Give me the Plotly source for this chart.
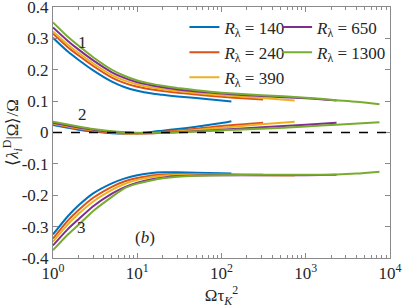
import plotly.graph_objects as go

# ---------------- data ----------------
labels = ["140", "240", "390", "650", "1300"]
colors = ["#0072BD", "#D95319", "#EDB120", "#7E2F8E", "#77AC30"]

# curve family 1
x1_140 = [1, 1.5, 2, 3, 5, 7, 10, 15, 20, 30, 50, 100, 131]
y1_140 = [0.302, 0.258, 0.232, 0.198, 0.162, 0.145, 0.133, 0.124, 0.120, 0.115, 0.110, 0.102, 0.099]
x1_240 = [1, 1.5, 2, 3, 5, 7, 10, 15, 20, 30, 50, 100, 200, 312]
y1_240 = [0.315, 0.272, 0.246, 0.212, 0.175, 0.158, 0.146, 0.137, 0.132, 0.127, 0.121, 0.114, 0.108, 0.105]
x1_390 = [1, 1.5, 2, 3, 5, 7, 10, 15, 20, 30, 50, 100, 300, 740]
y1_390 = [0.322, 0.280, 0.254, 0.220, 0.183, 0.166, 0.153, 0.143, 0.138, 0.132, 0.126, 0.119, 0.110, 0.102]
x1_650 = [1, 1.5, 2, 3, 5, 7, 10, 15, 20, 30, 50, 100, 300, 1000, 2320]
y1_650 = [0.335, 0.292, 0.265, 0.230, 0.192, 0.174, 0.160, 0.150, 0.144, 0.137, 0.131, 0.124, 0.116, 0.109, 0.102]
x1_1300 = [1, 1.5, 2, 3, 5, 7, 10, 15, 20, 30, 50, 100, 300, 1000, 2300, 4000, 7500]
y1_1300 = [0.351, 0.305, 0.277, 0.240, 0.200, 0.181, 0.166, 0.155, 0.149, 0.142, 0.135, 0.127, 0.119, 0.111, 0.103, 0.098, 0.090]

# curve family 2
x2_140 = [1, 1.5, 2, 3, 5, 7, 10, 15, 20, 30, 50, 100, 131]
y2_140 = [0.024, 0.015, 0.009, 0.003, -0.002, -0.003, -0.002, 0.002, 0.006, 0.011, 0.018, 0.030, 0.036]
x2_240 = [1, 1.5, 2, 3, 5, 7, 10, 15, 20, 30, 50, 100, 200, 312]
y2_240 = [0.027, 0.018, 0.012, 0.005, -0.001, -0.003, -0.003, -0.001, 0.002, 0.006, 0.012, 0.021, 0.027, 0.031]
x2_390 = [1, 2, 3, 5, 7, 10, 15, 20, 30, 50, 100, 300, 740]
y2_390 = [0.029, 0.014, 0.007, 0.001, -0.002, -0.003, -0.002, 0.000, 0.003, 0.008, 0.015, 0.026, 0.034]
x2_650 = [1, 2, 3, 5, 10, 15, 20, 30, 50, 100, 300, 1000, 2320]
y2_650 = [0.031, 0.016, 0.009, 0.002, -0.002, -0.002, -0.001, 0.001, 0.004, 0.009, 0.017, 0.025, 0.031]
x2_1300 = [1, 2, 3, 5, 10, 20, 30, 50, 100, 300, 1000, 2300, 7500]
y2_1300 = [0.034, 0.019, 0.011, 0.004, -0.001, -0.001, 0.001, 0.003, 0.007, 0.012, 0.019, 0.025, 0.033]

# curve family 3
x3_140 = [1, 1.5, 2, 3, 5, 7, 10, 15, 20, 30, 50, 100, 131]
y3_140 = [-0.325, -0.267, -0.233, -0.194, -0.162, -0.147, -0.136, -0.129, -0.127, -0.127, -0.128, -0.130, -0.131]
x3_240 = [1, 1.5, 2, 3, 5, 7, 10, 15, 20, 30, 50, 100, 312]
y3_240 = [-0.338, -0.281, -0.248, -0.208, -0.173, -0.156, -0.145, -0.137, -0.134, -0.132, -0.132, -0.133, -0.135]
x3_390 = [1, 1.5, 2, 3, 5, 7, 10, 15, 20, 30, 50, 100, 300, 740]
y3_390 = [-0.348, -0.293, -0.260, -0.220, -0.183, -0.164, -0.151, -0.142, -0.138, -0.135, -0.134, -0.135, -0.136, -0.137]
x3_650 = [1, 1.5, 2, 3, 5, 7, 10, 15, 20, 30, 50, 100, 300, 1000, 2320]
y3_650 = [-0.360, -0.308, -0.277, -0.235, -0.195, -0.175, -0.160, -0.149, -0.144, -0.139, -0.137, -0.136, -0.136, -0.136, -0.135]
x3_1300 = [1, 1.5, 2, 3, 5, 7, 10, 15, 20, 30, 50, 100, 300, 1000, 2300, 4000, 7500]
y3_1300 = [-0.375, -0.325, -0.295, -0.250, -0.205, -0.178, -0.163, -0.152, -0.146, -0.141, -0.138, -0.136, -0.135, -0.135, -0.134, -0.131, -0.125]

family1 = [(x1_140, y1_140), (x1_240, y1_240), (x1_390, y1_390), (x1_650, y1_650), (x1_1300, y1_1300)]
family2 = [(x2_140, y2_140), (x2_240, y2_240), (x2_390, y2_390), (x2_650, y2_650), (x2_1300, y2_1300)]
family3 = [(x3_140, y3_140), (x3_240, y3_240), (x3_390, y3_390), (x3_650, y3_650), (x3_1300, y3_1300)]

y_ticks = [0.4, 0.3, 0.2, 0.1, 0, -0.1, -0.2, -0.3, -0.4]
y_ticktext = ["0.4", "0.3", "0.2", "0.1", "0", "-0.1", "-0.2", "-0.3", "-0.4"]
x_ticks = [1, 10, 100, 1000, 10000]
x_ticktext = ["10<sup>0</sup>", "10<sup>1</sup>", "10<sup>2</sup>", "10<sup>3</sup>", "10<sup>4</sup>"]

FONT = "Liberation Serif"
TXT = "#262626"

fig = go.Figure()
for i, (lab, col) in enumerate(zip(labels, colors)):
    leg = "legend" if i < 3 else "legend2"
    for k, fam in enumerate((family1, family2, family3)):
        xs, ys = fam[i]
        fig.add_trace(go.Scatter(
            x=xs, y=ys, mode="lines",
            line=dict(color=col, width=2, shape="spline", smoothing=0.6),
            name=f"<i>R</i><sub>λ</sub> = {lab}",
            showlegend=(k == 0), legend=leg, legendgroup=lab,
        ))

# dashed zero line
fig.add_shape(type="line", xref="paper", x0=0, x1=1, yref="y", y0=0, y1=0,
              line=dict(color="black", width=1.5, dash="dash"))

ann_font = dict(family=FONT, size=17, color=TXT)
fig.add_annotation(x=0.356, y=0.287, text="1", showarrow=False, font=ann_font)
fig.add_annotation(x=0.345, y=0.057, text="2", showarrow=False, font=ann_font)
fig.add_annotation(x=0.335, y=-0.302, text="3", showarrow=False, font=ann_font)
fig.add_annotation(x=1.09, y=-0.334, text="(<i>b</i>)", showarrow=False, font=ann_font)

axis_common = dict(
    showline=True, linecolor="#8a8a8a", linewidth=1, mirror="ticks",
    ticks="inside", ticklen=5, tickcolor="#8a8a8a", showgrid=False, zeroline=False,
    tickfont=dict(family=FONT, size=17, color=TXT), automargin=False,
    ticklabeloverflow="allow",
)

fig.update_xaxes(type="log", range=[0, 4], tickvals=x_ticks, ticktext=x_ticktext,
                 minor=dict(ticks="inside", ticklen=3, tickcolor="#8a8a8a", dtick="D1", showgrid=False),
                 title=dict(text="Ωτ<sub><i>K</i></sub><sup>2</sup>", font=dict(family=FONT, size=17, color=TXT), standoff=0),
                 **axis_common)
fig.update_yaxes(range=[-0.4, 0.4], tickvals=y_ticks, ticktext=y_ticktext,
                 title=dict(text="⟨<i>λ</i><sub><i>i</i></sub><sup>D</sup>|Ω⟩/Ω", font=dict(family=FONT, size=17, color=TXT), standoff=6),
                 **axis_common)

legend_common = dict(bgcolor="rgba(0,0,0,0)", borderwidth=0, font=dict(family=FONT, size=17, color=TXT),
                     yanchor="top", xanchor="left", tracegroupgap=0, itemwidth=30)
fig.update_layout(
    width=403, height=308,
    margin=dict(l=53, r=13, t=7, b=50, autoexpand=False),
    paper_bgcolor="white", plot_bgcolor="white",
    legend=dict(x=0.39, y=0.99, **legend_common),
    legend2=dict(x=0.665, y=0.99, **legend_common),
)

fig.write_html("out.html", post_script="document.body.style.margin='0';",
               config={"displayModeBar": False})
